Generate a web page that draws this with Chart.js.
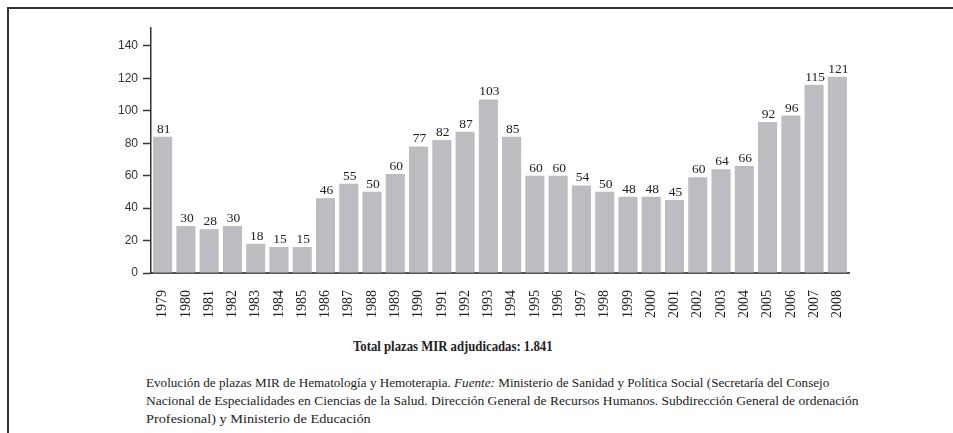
<!DOCTYPE html>
<html>
<head>
<meta charset="utf-8">
<script src="https://cdn.jsdelivr.net/npm/chart.js@4"></script>
<style>
  html, body { margin: 0; padding: 0; background: #fff; }
  #page { position: relative; width: 953px; height: 433px; overflow: hidden; }
  #frame { position: absolute; left: 7px; top: 7px; width: 960px; height: 440px;
           border-top: 2px solid #333; border-left: 2px solid #333; }
  #chartBox { position: absolute; left: 0; top: 0; width: 953px; height: 330px; }
  #total { position: absolute; left: 353px; top: 339px; white-space: nowrap;
           font: bold 14px "Liberation Serif", serif; color: #222;
           transform-origin: 0 0; transform: scaleX(0.91); }
  .cap { position: absolute; left: 146px; white-space: nowrap;
         font: 13px/18px "Liberation Serif", serif; color: #222; transform-origin: 0 0; }
</style>
</head>
<body>
<div id="page">
  <div id="frame"></div>
  <div id="chartBox"><canvas id="mirChart" width="953" height="330"></canvas></div>
  <div id="total">Total plazas MIR adjudicadas: 1.841</div>
  <div class="cap" style="top:374px; transform:scaleX(1.01)">Evolución de plazas MIR de Hematología y Hemoterapia. <i>Fuente:</i> Ministerio de Sanidad y Política Social (Secretaría del Consejo</div>
  <div class="cap" style="top:392px; transform:scaleX(1.04)">Nacional de Especialidades en Ciencias de la Salud. Dirección General de Recursos Humanos. Subdirección General de ordenación</div>
  <div class="cap" style="top:410px; transform:scaleX(1.1)">Profesional) y Ministerio de Educación</div>
</div>
<script>
// years on the x axis
const years = ['1979','1980','1981','1982','1983','1984','1985','1986','1987','1988',
  '1989','1990','1991','1992','1993','1994','1995','1996','1997','1998',
  '1999','2000','2001','2002','2003','2004','2005','2006','2007','2008'];
// bar heights as drawn
const plazas = [84, 29, 27, 29, 18, 16, 16, 46, 55, 50,
  61, 78, 82, 87, 107, 84, 60, 60, 54, 50,
  47, 47, 45, 59, 64, 66, 93, 97, 116, 121];
// numbers printed above the bars
const printed = ['81','30','28','30','18','15','15','46','55','50',
  '60','77','82','87','103','85','60','60','54','50',
  '48','48','45','60','64','66','92','96','115','121'];
const yTicks = [0, 20, 40, 60, 80, 100, 120, 140];

const valueLabels = {
  id: 'valueLabels',
  afterDatasetsDraw(chart) {
    const ctx = chart.ctx;
    const meta = chart.getDatasetMeta(0);
    ctx.save();
    ctx.font = '13.5px "Liberation Serif", serif';
    ctx.fillStyle = '#222';
    ctx.textAlign = 'center';
    ctx.textBaseline = 'alphabetic';
    meta.data.forEach((bar, i) => {
      ctx.fillText(printed[i], bar.x + 1, bar.y - 4);
    });
    ctx.restore();
  }
};

new Chart(document.getElementById('mirChart'), {
  type: 'bar',
  data: {
    labels: years,
    datasets: [{ data: plazas, backgroundColor: '#bcbdc0', borderWidth: 0,
                 barPercentage: 0.82, categoryPercentage: 1 }]
  },
  options: {
    responsive: false,
    animation: false,
    layout: { padding: { left: 0, right: 104, top: 28, bottom: 0 } },
    plugins: { legend: { display: false }, tooltip: { enabled: false } },
    scales: {
      x: {
        grid: { display: false },
        border: { display: true, color: '#555', width: 2 },
        ticks: { color: '#222', autoSkip: false, minRotation: 90, maxRotation: 90, padding: 9,
                 font: { family: 'Liberation Serif', size: 14 } },
        afterFit: s => { s.height = 330 - 273; }
      },
      y: {
        min: 0, max: 151,
        grid: { drawOnChartArea: false, drawTicks: true, tickLength: 8, color: '#333', tickWidth: 1.5 },
        border: { display: true, color: '#333', width: 1.5 },
        ticks: { stepSize: 20, color: '#333', padding: 5,
                 font: { family: 'Liberation Sans', size: 12 } },
        afterBuildTicks: s => { s.ticks = yTicks.map(v => ({ value: v })); },
        afterFit: s => { s.width = 151; }
      }
    }
  },
  plugins: [valueLabels]
});
</script>
</body>
</html>
